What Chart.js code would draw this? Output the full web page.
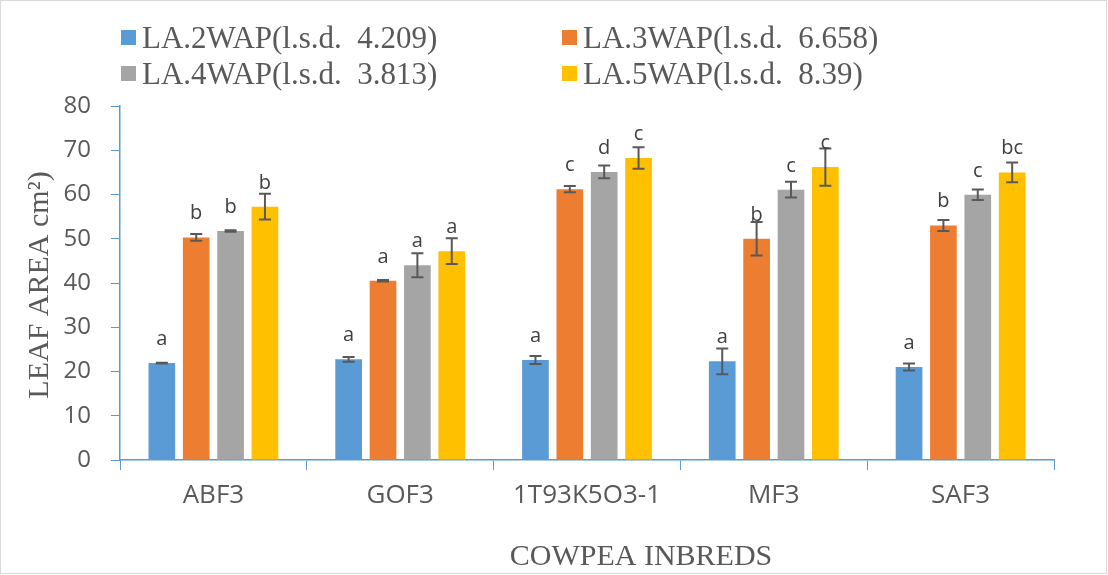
<!DOCTYPE html>
<html>
<head>
<meta charset="utf-8">
<script src="https://cdn.jsdelivr.net/npm/chart.js@4.4.1/dist/chart.umd.min.js"></script>
<style>
  html, body { margin: 0; padding: 0; background: #ffffff; }
  #wrap { position: relative; width: 1108px; height: 575px; }
</style>
</head>
<body>
<div id="wrap"><canvas id="c" width="1108" height="575"></canvas></div>
<script>
// ---- data ----
const categories = ["ABF3", "GOF3", "1T93K5O3-1", "MF3", "SAF3"];
const seriesNames = [
  "LA.2WAP(l.s.d.  4.209)",
  "LA.3WAP(l.s.d.  6.658)",
  "LA.4WAP(l.s.d.  3.813)",
  "LA.5WAP(l.s.d.  8.39)"
];
const la2wap = [21.9, 22.75, 22.6, 22.3, 21.0];
const la3wap = [50.3, 40.5, 61.2, 50.0, 53.0];
const la4wap = [51.75, 44.0, 65.1, 61.1, 59.95];
const la5wap = [57.25, 47.2, 68.25, 66.2, 65.0];
const err2wap = [0.1, 0.55, 0.9, 2.9, 0.8];
const err3wap = [0.75, 0.15, 0.7, 3.8, 1.25];
const err4wap = [0.15, 2.7, 1.45, 1.8, 1.2];
const err5wap = [2.9, 2.9, 2.45, 4.2, 2.25];
const letters2wap = ["a", "a", "a", "a", "a"];
const letters3wap = ["b", "a", "c", "b", "b"];
const letters4wap = ["b", "a", "d", "c", "c"];
const letters5wap = ["b", "a", "c", "c", "bc"];
const yTicks = [0, 10, 20, 30, 40, 50, 60, 70, 80];
const yTitle = "LEAF AREA cm\u00B2)";
const xTitle = "COWPEA INBREDS";

const colors = ["#5B9BD5", "#ED7D31", "#A5A5A5", "#FFC000"];
const values = [la2wap, la3wap, la4wap, la5wap];
const errors = [err2wap, err3wap, err4wap, err5wap];
const letters = [letters2wap, letters3wap, letters4wap, letters5wap];

const AXIS = "#5B9BD5";
const TEXT = "#595959";

const overlay = {
  id: "overlay",
  afterDatasetsDraw(chart) {
    const ctx = chart.ctx;
    const ys = chart.scales.y;
    ctx.save();
    values.forEach((vals, i) => {
      const meta = chart.getDatasetMeta(i);
      meta.data.forEach((bar, j) => {
        const v = vals[j], e = errors[i][j];
        const x = bar.x;
        const yt = ys.getPixelForValue(v + e);
        const yb = ys.getPixelForValue(v - e);
        ctx.strokeStyle = "#595959";
        ctx.lineWidth = 2;
        ctx.beginPath();
        ctx.moveTo(x, yt); ctx.lineTo(x, yb);
        ctx.moveTo(x - 6, yt); ctx.lineTo(x + 6, yt);
        ctx.moveTo(x - 6, yb); ctx.lineTo(x + 6, yb);
        ctx.stroke();
        ctx.fillStyle = "#404040";
        ctx.font = "20px 'Open Sans'";
        ctx.textAlign = "center";
        ctx.textBaseline = "alphabetic";
        ctx.fillText(letters[i][j], x, bar.y - 18);
      });
    });
    ctx.restore();
  },
  afterDraw(chart) {
    const ctx = chart.ctx;
    ctx.save();
    // legend
    const colX = [121, 562];
    const rowBase = [48, 84];
    ctx.font = "31px 'Liberation Serif'";
    ctx.textAlign = "left";
    ctx.textBaseline = "alphabetic";
    seriesNames.forEach((name, i) => {
      const cx = colX[i % 2], by = rowBase[Math.floor(i / 2)];
      ctx.fillStyle = colors[i];
      ctx.fillRect(cx, by - 18, 15, 15);
      ctx.fillStyle = TEXT;
      ctx.fillText(name, cx + 21, by);
    });
    // y title
    ctx.save();
    ctx.translate(48, 285);
    ctx.rotate(-Math.PI / 2);
    ctx.textAlign = "center";
    ctx.font = "30px 'Liberation Serif'";
    ctx.fillStyle = TEXT;
    ctx.fillText(yTitle, 0, 0);
    ctx.restore();
    // x title
    ctx.font = "30px 'Liberation Serif'";
    ctx.textAlign = "center";
    ctx.fillStyle = TEXT;
    ctx.fillText(xTitle, 641, 565);
    // outer border
    ctx.strokeStyle = "#d9d9d9";
    ctx.lineWidth = 1;
    ctx.strokeRect(0.5, 0.5, 1106, 573);
    ctx.restore();
  }
};

new Chart(document.getElementById("c"), {
  type: "bar",
  data: {
    labels: categories,
    datasets: values.map((vals, i) => ({
      label: seriesNames[i],
      data: vals,
      backgroundColor: colors[i],
      borderWidth: 0,
      categoryPercentage: 0.736,
      barPercentage: 0.776
    }))
  },
  options: {
    responsive: false,
    animation: false,
    layout: { padding: { top: 106, right: 54, left: 0, bottom: 0 } },
    plugins: {
      legend: { display: false },
      tooltip: { enabled: false }
    },
    scales: {
      x: {
        offset: true,
        grid: { display: true, drawOnChartArea: false, offset: true, color: AXIS, tickLength: 10, lineWidth: 1 },
        border: { color: AXIS, width: 1.5 },
        ticks: { color: TEXT, font: { family: "'Open Sans'", size: 26 }, padding: 10, maxRotation: 0 },
        afterFit(s) { s.height = 115; }
      },
      y: {
        min: 0, max: 80,
        afterBuildTicks(s) { s.ticks = yTicks.map(v => ({ value: v })); },
        grid: { display: true, drawOnChartArea: false, color: AXIS, tickLength: 9, lineWidth: 1 },
        border: { color: AXIS, width: 1.5 },
        ticks: { color: TEXT, font: { family: "'Open Sans'", size: 24 }, padding: 20 },
        afterFit(s) { s.width = 120; }
      }
    }
  },
  plugins: [overlay]
});
</script>
</body>
</html>
